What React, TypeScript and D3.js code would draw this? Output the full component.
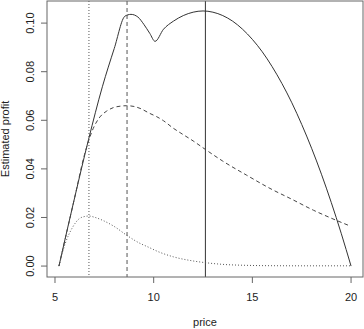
import React from "react";
import * as d3 from "d3";

const xTicks = [5, 10, 15, 20];
const yTicks = [0, 0.02, 0.04, 0.06, 0.08, 0.1];
const yTickLabels = ["0.00", "0.02", "0.04", "0.06", "0.08", "0.10"];

const solidPrice = [5.2, 6.0, 6.7, 7.4, 8.0, 8.55, 8.85, 9.2, 9.5, 9.8, 10.07, 10.5, 11, 11.5, 12, 12.5, 13, 13.5, 14, 14.5, 15, 15.5, 16, 16.5, 17, 17.5, 18, 18.5, 19, 19.5, 20];
const solidProfit = [0, 0.0283, 0.0521, 0.0738, 0.0895, 0.1029, 0.1036, 0.1025, 0.0995, 0.0958, 0.0925, 0.0975, 0.1008, 0.1031, 0.1045, 0.105, 0.1045, 0.1031, 0.1008, 0.0975, 0.0933, 0.0882, 0.0821, 0.0751, 0.0672, 0.0583, 0.0485, 0.0378, 0.0261, 0.0135, 0];

const dashedPrice = [5.2, 6.0, 6.5, 6.72, 6.94, 7.28, 7.62, 7.95, 8.3, 8.63, 9.0, 9.31, 9.81, 10.15, 10.5, 11.0, 11.34, 12.0, 12.62, 13.5, 14.71, 16.0, 17.0, 18.09, 19.0, 19.95];
const dashedProfit = [0, 0.0283, 0.046, 0.052, 0.0567, 0.0614, 0.0638, 0.0652, 0.0658, 0.066, 0.0657, 0.0649, 0.0628, 0.0615, 0.0598, 0.0567, 0.0549, 0.0515, 0.048, 0.0432, 0.0374, 0.0315, 0.0275, 0.023, 0.0197, 0.0165];

const dottedPrice = [5.2, 5.52, 5.86, 6.2, 6.5, 6.72, 7.0, 7.5, 8.0, 8.63, 9.2, 9.81, 10.15, 11.0, 12.0, 12.62, 13.5, 14.7, 16, 18, 20];
const dottedProfit = [0, 0.0093, 0.0155, 0.0193, 0.0204, 0.0206, 0.0201, 0.0185, 0.0163, 0.0127, 0.0098, 0.0075, 0.0062, 0.0038, 0.0021, 0.0014, 0.0007, 0.0003, 0.00015, 0.0001, 0.0001];

const optPrices = [6.72, 8.65, 12.62];
const optStyles = ["1,2", "4,3", ""];

export default function App() {
  const W = 364, H = 329;
  const left = 47, right = 363, top = 1, bottom = 277;
  const x = d3.scaleLinear().domain([4.595, 20.605]).range([left, right]);
  const y = d3.scaleLinear().domain([-0.0045, 0.1091]).range([bottom, top]);
  const line = d3.line<[number, number]>().x(d => x(d[0])).y(d => y(d[1])).curve(d3.curveMonotoneX);
  const mk = (px: number[], py: number[]) => px.map((p, i) => [p, py[i]] as [number, number]);
  const font = "Liberation Sans, Arial, sans-serif";
  return (
    <svg width={W} height={H} style={{ position: "absolute", left: 0, top: 0 }} fontFamily={font}>
      <rect x={0} y={0} width={W} height={H} fill="#fff" />
      {optPrices.map((p, i) => (
        <line key={i} x1={x(p)} x2={x(p)} y1={top} y2={bottom} stroke={i === 2 ? "#333" : "#555"} strokeWidth={1} strokeDasharray={optStyles[i]} />
      ))}
      <path d={line(mk(solidPrice, solidProfit)) || ""} fill="none" stroke="#333" strokeWidth={1} />
      <path d={line(mk(dashedPrice, dashedProfit)) || ""} fill="none" stroke="#444" strokeWidth={1} strokeDasharray="4,3" />
      <path d={line(mk(dottedPrice, dottedProfit)) || ""} fill="none" stroke="#555" strokeWidth={1} strokeDasharray="1,2" />
      <rect x={left} y={top} width={right - left} height={bottom - top} fill="none" stroke="#666" strokeWidth={1} />
      {xTicks.map(t => (
        <g key={t}>
          <line x1={x(t)} x2={x(t)} y1={bottom} y2={bottom + 6} stroke="#666" />
          <text x={x(t)} y={301} textAnchor="middle" fontSize={11} fill="#222">{t}</text>
        </g>
      ))}
      {yTicks.map((t, i) => (
        <g key={t}>
          <line x1={left - 6} x2={left} y1={y(t)} y2={y(t)} stroke="#666" />
          <text transform={`translate(34,${y(t)}) rotate(-90)`} textAnchor="middle" fontSize={11} fill="#222">{yTickLabels[i]}</text>
        </g>
      ))}
      <text x={(left + right) / 2} y={326} textAnchor="middle" fontSize={11} fill="#222">price</text>
      <text transform={`translate(9,${(top + bottom) / 2}) rotate(-90)`} textAnchor="middle" fontSize={11} fill="#222">Estimated profit</text>
    </svg>
  );
}
